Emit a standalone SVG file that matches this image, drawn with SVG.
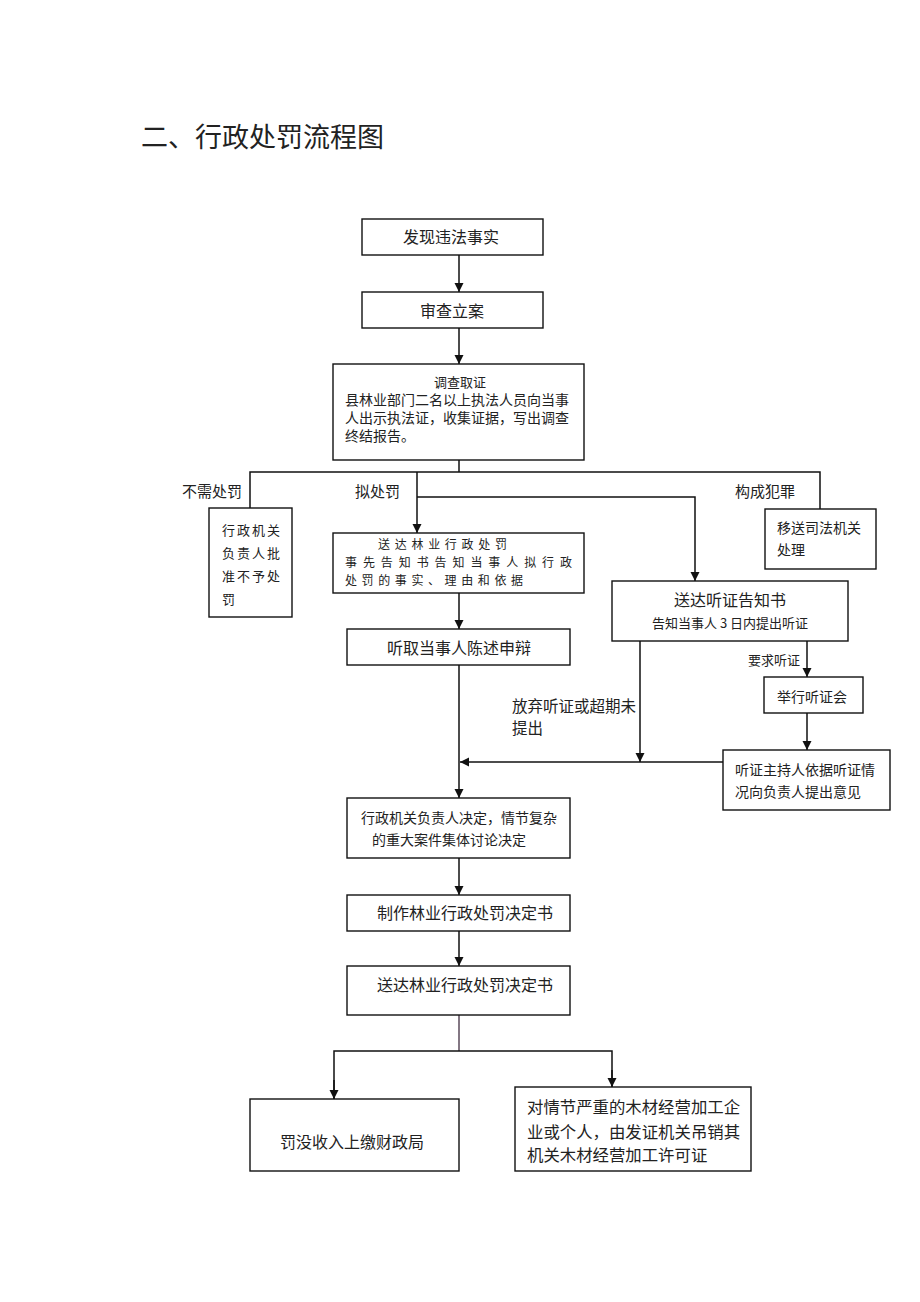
<svg xmlns="http://www.w3.org/2000/svg" width="920" height="1302" viewBox="0 0 920 1302">
<defs>
<style>
.box{fill:#fff;stroke:#111;stroke-width:1.4}
.ln{fill:none;stroke:#111;stroke-width:1.5}
text{font-family:"Noto Sans CJK SC","Noto Sans CJK JP",sans-serif;fill:#222}
.c{text-anchor:middle}
</style>
<marker id="ah" viewBox="0 0 10 10" refX="10" refY="5" markerWidth="9" markerHeight="10" markerUnits="userSpaceOnUse" orient="auto">
<path d="M0,0L10,5L0,10z" fill="#111"/>
</marker>
</defs>
<rect width="920" height="1302" fill="#fff"/>
<text x="141" y="147" font-size="27">二、行政处罚流程图</text>

<g id="connectors">
<line class="ln" x1="459" y1="255" x2="459" y2="292" marker-end="url(#ah)"/>
<line class="ln" x1="459" y1="328" x2="459" y2="364" marker-end="url(#ah)"/>
<polyline class="ln" points="459,460 459,472"/>
<polyline class="ln" points="250,508 250,472 820,472 820,509"/>
<line class="ln" x1="417" y1="472" x2="417" y2="533" marker-end="url(#ah)"/>
<polyline class="ln" points="417,497 695,497 695,581" marker-end="url(#ah)"/>
<line class="ln" x1="459" y1="593" x2="459" y2="629" marker-end="url(#ah)"/>
<line class="ln" x1="459" y1="665" x2="459" y2="798" marker-end="url(#ah)"/>
<line class="ln" x1="723" y1="762" x2="460" y2="762" marker-end="url(#ah)"/>
<line class="ln" x1="640" y1="641" x2="640" y2="762" marker-end="url(#ah)"/>
<line class="ln" x1="807" y1="641" x2="807" y2="677" marker-end="url(#ah)"/>
<line class="ln" x1="807" y1="713" x2="807" y2="750" marker-end="url(#ah)"/>
<line class="ln" x1="459" y1="858" x2="459" y2="895" marker-end="url(#ah)"/>
<line class="ln" x1="459" y1="931" x2="459" y2="966" marker-end="url(#ah)"/>
<polyline class="ln" points="459,1015 459,1051" style="stroke:#5a4a5a"/>
<polyline class="ln" points="334,1099 334,1051 612,1051 612,1087"/>
<line class="ln" x1="334" y1="1080" x2="334" y2="1099" marker-end="url(#ah)"/>
<line class="ln" x1="612" y1="1070" x2="612" y2="1087" marker-end="url(#ah)"/>
<text x="182" y="497" font-size="15">不需处罚</text>
<text x="355" y="497" font-size="15">拟处罚</text>
<text x="735" y="497" font-size="15">构成犯罪</text>
<text x="748" y="665" font-size="13">要求听证</text>
<text x="512" y="712" font-size="15.5">放弃听证或超期未</text>
<text x="512" y="734" font-size="15.5">提出</text>
</g>

<g id="n1"><rect class="box" x="362" y="219" width="181" height="36"/><text class="c" x="451" y="243" font-size="16">发现违法事实</text></g>
<g id="n2"><rect class="box" x="362" y="292" width="181" height="36"/><text class="c" x="452" y="317" font-size="16">审查立案</text></g>
<g id="n3"><rect class="box" x="333" y="364" width="251" height="96"/>
<text class="c" x="460" y="387" font-size="13">调查取证</text>
<text x="345" y="405" font-size="14">县林业部门二名以上执法人员向当事</text>
<text x="345" y="423" font-size="14">人出示执法证，收集证据，写出调查</text>
<text x="345" y="441" font-size="14">终结报告。</text></g>
<g id="n4"><rect class="box" x="209" y="508" width="83" height="109"/>
<text x="222" y="535" font-size="13" letter-spacing="2">行政机关</text>
<text x="222" y="558" font-size="13" letter-spacing="2">负责人批</text>
<text x="222" y="581" font-size="13" letter-spacing="2">准不予处</text>
<text x="222" y="604" font-size="13" letter-spacing="2">罚</text></g>
<g id="n5"><rect class="box" x="765" y="509" width="111" height="60"/>
<text x="777" y="533" font-size="14">移送司法机关</text>
<text x="777" y="555" font-size="14">处理</text></g>
<g id="n6"><rect class="box" x="333" y="533" width="251" height="60"/>
<text x="378" y="549" font-size="12" textLength="129" lengthAdjust="spacing">送达林业行政处罚</text>
<text x="345" y="567" font-size="12" textLength="227" lengthAdjust="spacing">事先告知书告知当事人拟行政</text>
<text x="345" y="585" font-size="12" textLength="178" lengthAdjust="spacing">处罚的事实、理由和依据</text></g>
<g id="n7"><rect class="box" x="612" y="581" width="236" height="60"/>
<text class="c" x="730" y="606" font-size="16">送达听证告知书</text>
<text class="c" x="730" y="628" font-size="13">告知当事人 3 日内提出听证</text></g>
<g id="n8"><rect class="box" x="347" y="629" width="223" height="36"/><text class="c" x="459" y="654" font-size="16">听取当事人陈述申辩</text></g>
<g id="n9"><rect class="box" x="764" y="677" width="99" height="36"/><text class="c" x="812" y="702" font-size="14">举行听证会</text></g>
<g id="n10"><rect class="box" x="723" y="750" width="167" height="60"/>
<text x="735" y="775" font-size="14">听证主持人依据听证情</text>
<text x="735" y="797" font-size="14">况向负责人提出意见</text></g>
<g id="n11"><rect class="box" x="347" y="798" width="223" height="60"/>
<text class="c" x="459" y="823" font-size="14">行政机关负责人决定，情节复杂</text>
<text class="c" x="449" y="845" font-size="14">的重大案件集体讨论决定</text></g>
<g id="n12"><rect class="box" x="347" y="895" width="223" height="36"/><text class="c" x="465" y="919" font-size="16">制作林业行政处罚决定书</text></g>
<g id="n13"><rect class="box" x="347" y="966" width="223" height="49"/><text class="c" x="465" y="991" font-size="16">送达林业行政处罚决定书</text></g>
<g id="n14"><rect class="box" x="250" y="1099" width="209" height="72"/><text class="c" x="352" y="1148" font-size="16">罚没收入上缴财政局</text></g>
<g id="n15"><rect class="box" x="515" y="1087" width="236" height="84"/>
<text x="527" y="1113" font-size="16.4">对情节严重的木材经营加工企</text>
<text x="527" y="1138" font-size="16.4">业或个人，由发证机关吊销其</text>
<text x="527" y="1161" font-size="16.4">机关木材经营加工许可证</text></g>
</svg>
